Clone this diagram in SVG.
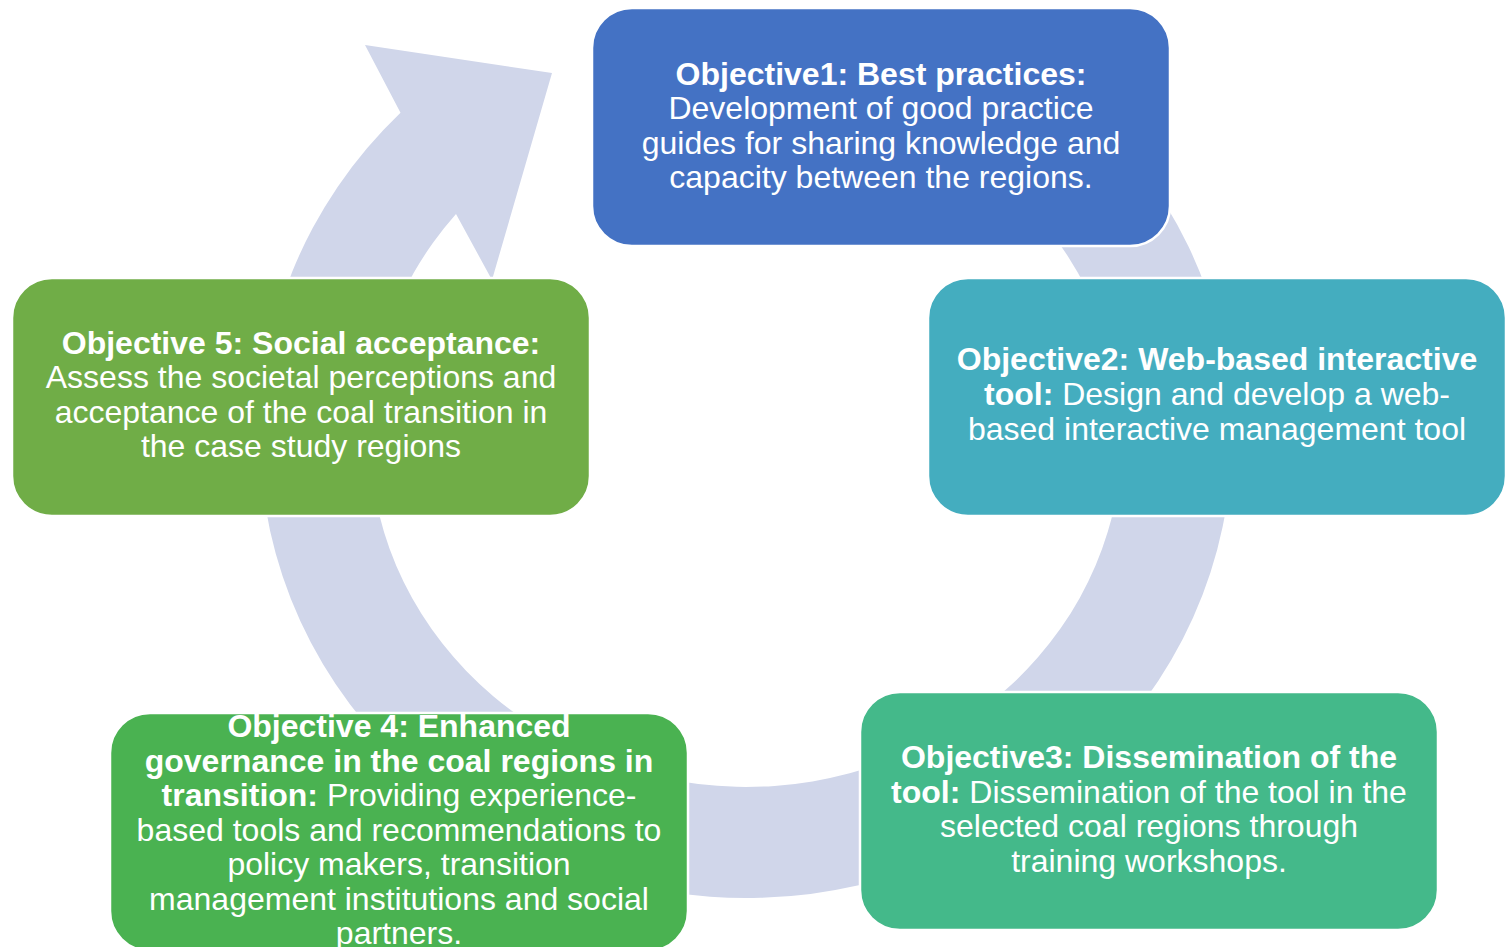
<svg xmlns="http://www.w3.org/2000/svg" width="1507" height="947" viewBox="0 0 1507 947">
<style>
.box{stroke:#ffffff;stroke-width:2.5}
.t{font-family:"Liberation Sans",Arial,sans-serif;font-size:32px;fill:#ffffff;text-anchor:middle}
.b{font-weight:bold}
.arrow{fill:#D0D6EA}
</style>
<rect width="1507" height="947" fill="#ffffff"/>
<g id="connectors">
<path class="arrow" d="M989,37.8 A486,461 0 1 1 400.5,112.7 L365,45 L552,73 L492,280 L456,214 A376,350 0 1 0 934,133.9 Z"/>
</g>
<g id="obj1">
<rect class="box" x="592" y="8" width="578" height="238" rx="40" ry="40" fill="#4472C4"/>
<text class="t b" x="881" y="85">Objective1: Best practices:</text>
<text class="t" x="881" y="119">Development of good practice</text>
<text class="t" x="881" y="153.5">guides for sharing knowledge and</text>
<text class="t" x="881" y="188">capacity between the regions.</text>
</g>
<g id="obj2">
<rect class="box" x="928" y="278" width="578" height="238" rx="40" ry="40" fill="#44ADBF"/>
<text class="t b" x="1217" y="370">Objective2: Web-based interactive</text>
<text class="t" x="1217" y="405"><tspan class="b">tool:</tspan> Design and develop a web-</text>
<text class="t" x="1217" y="439.5">based interactive management tool</text>
</g>
<g id="obj3">
<rect class="box" x="860" y="692" width="578" height="238" rx="40" ry="40" fill="#44B98A"/>
<text class="t b" x="1149" y="768">Objective3: Dissemination of the</text>
<text class="t" x="1149" y="802.5"><tspan class="b">tool:</tspan> Dissemination of the tool in the</text>
<text class="t" x="1149" y="837">selected coal regions through</text>
<text class="t" x="1149" y="871.5">training workshops.</text>
</g>
<g id="obj4">
<rect class="box" x="110" y="713" width="578" height="238" rx="40" ry="40" fill="#4AB251"/>
<text class="t b" x="399" y="737">Objective 4: Enhanced</text>
<text class="t b" x="399" y="771.5">governance in the coal regions in</text>
<text class="t" x="399" y="806"><tspan class="b">transition:</tspan> Providing experience-</text>
<text class="t" x="399" y="840.5">based tools and recommendations to</text>
<text class="t" x="399" y="875">policy makers, transition</text>
<text class="t" x="399" y="909.5">management institutions and social</text>
<text class="t" x="399" y="944">partners.</text>
</g>
<g id="obj5">
<rect class="box" x="12" y="278" width="578" height="238" rx="40" ry="40" fill="#70AD47"/>
<text class="t b" x="301" y="353.5">Objective 5: Social acceptance:</text>
<text class="t" x="301" y="388">Assess the societal perceptions and</text>
<text class="t" x="301" y="422.5">acceptance of the coal transition in</text>
<text class="t" x="301" y="457">the case study regions</text>
</g>
</svg>
